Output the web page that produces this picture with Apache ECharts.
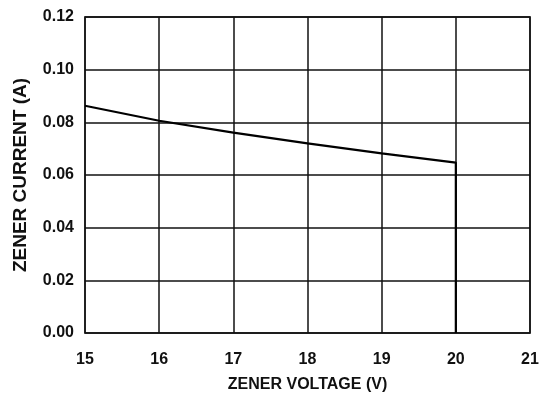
<!DOCTYPE html>
<html><head><meta charset="utf-8">
<script src="https://cdn.jsdelivr.net/npm/echarts@6/dist/echarts.min.js"></script>
<style>html,body{margin:0;padding:0;background:#fff}#c{width:543px;height:394px}</style>
</head><body><div id="c"></div>
<script>
const voltage = [15, 16, 17, 18, 19, 20, 20];
const current = [0.0863, 0.0806, 0.0761, 0.0720, 0.0682, 0.0647, 0];
const xName = 'ZENER VOLTAGE (V)';
const yName = 'ZENER CURRENT (A)';
const font = 'Liberation Sans, Arial, sans-serif';
const chart = echarts.init(document.getElementById('c'));
chart.setOption({
  animation: false,
  grid: {left: 85, right: 13, top: 17, bottom: 61, show: true, borderColor: '#444', borderWidth: 1.8,
    containLabel: false, outerBoundsMode: 'none'},
  xAxis: {
    type: 'value', min: 15, max: 21, interval: 1,
    name: xName, nameLocation: 'middle', nameGap: 44,
    nameTextStyle: {fontFamily: font, fontWeight: 'bold', fontSize: 16, color: '#111'},
    axisLine: {show: false}, axisTick: {show: false},
    axisLabel: {fontFamily: font, fontWeight: 'bold', fontSize: 16, color: '#111', margin: 19},
    splitLine: {show: true, lineStyle: {color: '#111', width: 1.5}}
  },
  yAxis: {
    type: 'value', min: 0, max: 0.12, interval: 0.02,
    name: yName, nameLocation: 'middle', nameGap: 55, nameRotate: 90,
    nameTextStyle: {fontFamily: font, fontWeight: 'bold', fontSize: 19, color: '#111'},
    axisLine: {show: false}, axisTick: {show: false},
    axisLabel: {fontFamily: font, fontWeight: 'bold', fontSize: 16, color: '#111', margin: 11,
      padding: [3, 0, 0, 0], formatter: v => v.toFixed(2)},
    splitLine: {show: true, lineStyle: {color: '#111', width: 1.5}}
  },
  series: [{
    type: 'line', data: voltage.map((v, i) => [v, current[i]]),
    smooth: false, symbol: 'none',
    lineStyle: {color: '#000', width: 2.2}
  }]
});
</script></body></html>
